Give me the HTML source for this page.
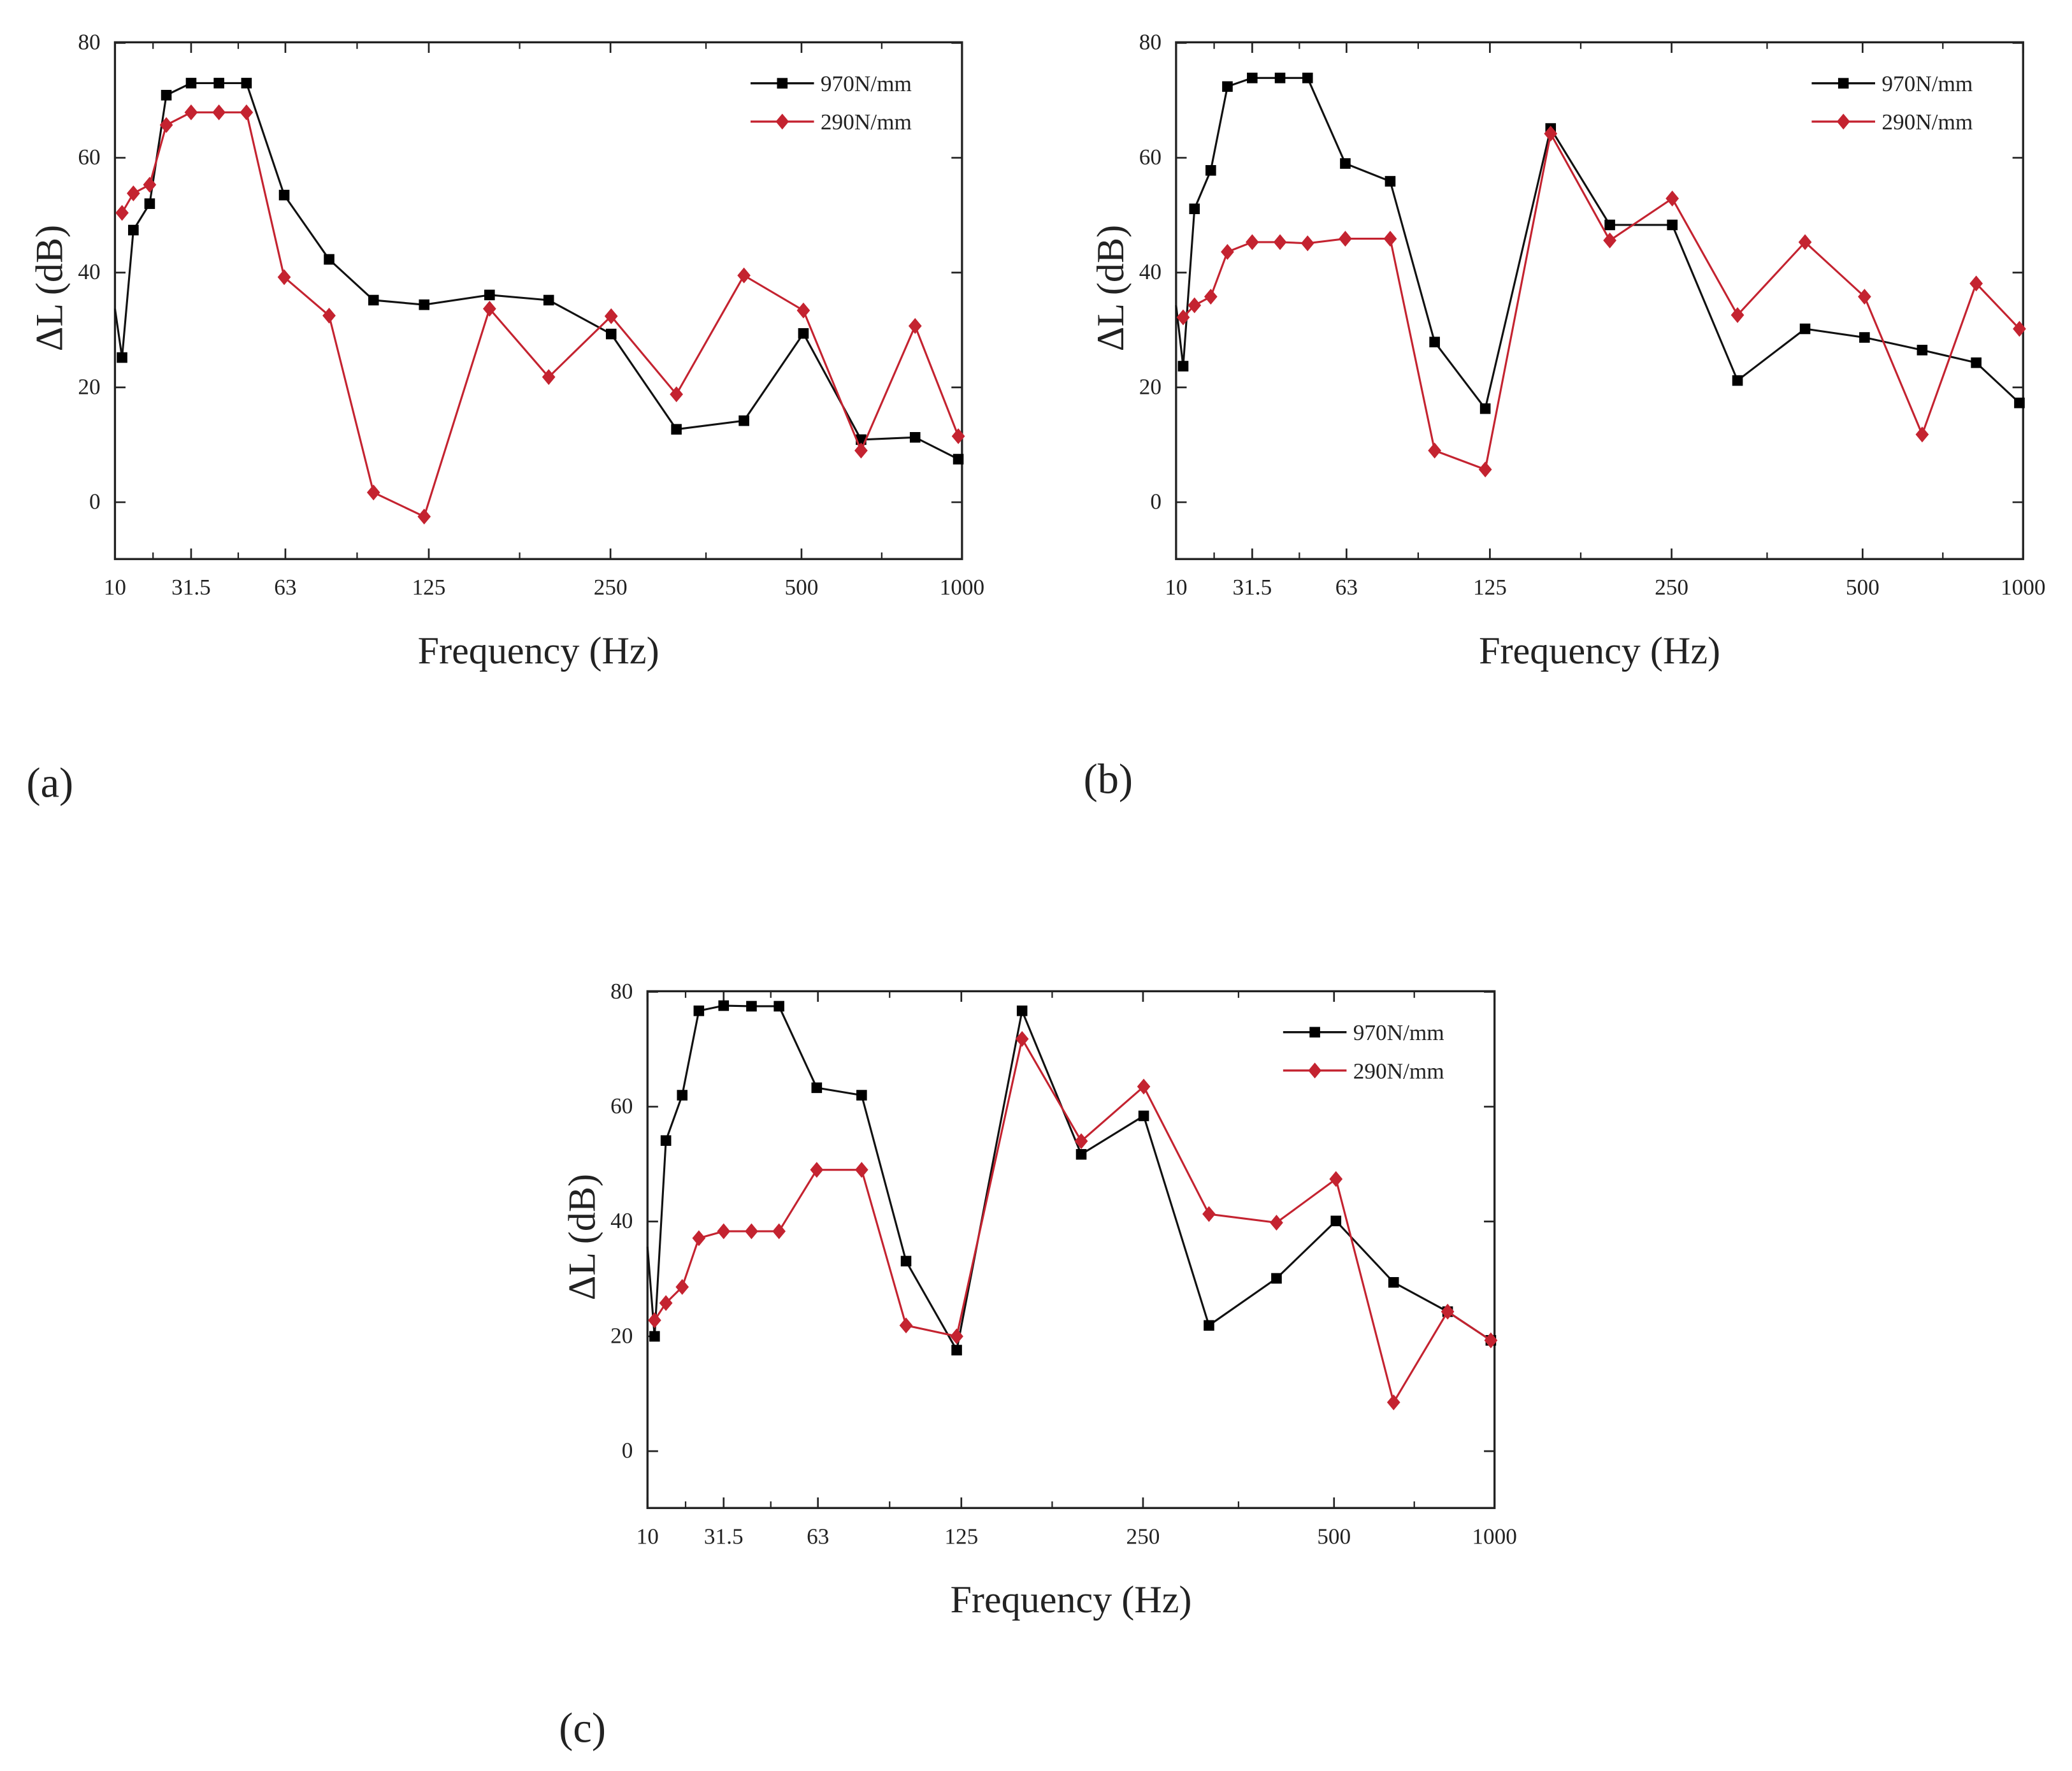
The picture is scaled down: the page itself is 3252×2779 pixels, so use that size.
<!DOCTYPE html>
<html><head><meta charset="utf-8"><style>
html,body{margin:0;padding:0;background:#fff;}
svg{display:block;}
text{font-family:"Liberation Serif",serif;fill:#222;}
</style></head><body>
<svg id="fig" width="3252" height="2779" viewBox="0 0 1568 1340" preserveAspectRatio="none" xmlns="http://www.w3.org/2000/svg"></svg>
<script>
// Shared frequency positions (Hz)
const freqs = [10, 12.0, 15.2, 19.8, 24.5, 31.5, 40.8, 50.0, 62.6, 81.9, 101.1, 123.0, 166.8, 207.5, 250.9, 336.3, 424.7, 506, 685.6, 853.9, 988.5];
const xTickValues = [10, 31.5, 63, 125, 250, 500, 1000];
const xTickLabels = ["10", "31.5", "63", "125", "250", "500", "1000"];
const xTickFrac = [0, 0.0899, 0.2012, 0.3705, 0.585, 0.8105, 1];
const yTickValues = [80, 60, 40, 20, 0];
const seriesNames = ["970N/mm", "290N/mm"];
// Panel (a)
const aBlack = [33.7, 25.2, 47.4, 52.0, 70.9, 73.0, 73.0, 73.0, 53.5, 42.3, 35.2, 34.4, 36.1, 35.2, 29.3, 12.7, 14.2, 29.4, 10.9, 11.3, 7.5];
const aRed = [null, 50.4, 53.8, 55.3, 65.7, 67.9, 67.9, 67.9, 39.2, 32.5, 1.7, -2.5, 33.7, 21.8, 32.4, 18.8, 39.5, 33.4, 9.0, 30.7, 11.5];
// Panel (b)
const bBlack = [34.3, 23.7, 51.1, 57.8, 72.4, 73.9, 73.9, 73.9, 59.0, 55.9, 27.9, 16.3, 65.1, 48.3, 48.3, 21.2, 30.2, 28.7, 26.5, 24.3, 17.3];
const bRed = [null, 32.2, 34.3, 35.8, 43.6, 45.3, 45.3, 45.1, 45.9, 45.9, 9.0, 5.7, 64.2, 45.6, 52.9, 32.6, 45.3, 35.8, 11.8, 38.1, 30.2];
// Panel (c)
const cBlack = [35.6, 20.0, 54.1, 62.0, 76.7, 77.6, 77.5, 77.5, 63.3, 62.0, 33.1, 17.6, 76.7, 51.7, 58.4, 21.9, 30.1, 40.1, 29.4, 24.3, 19.3];
const cRed = [null, 22.8, 25.8, 28.6, 37.1, 38.3, 38.3, 38.3, 49.0, 49.0, 21.9, 20.0, 71.8, 54.0, 63.5, 41.3, 39.8, 47.4, 8.5, 24.3, 19.3];

const NS = "http://www.w3.org/2000/svg";
const svg = document.getElementById("fig");
function mk(tag, attrs, parent) {
  const e = document.createElementNS(NS, tag);
  for (const k in attrs) e.setAttribute(k, attrs[k]);
  (parent || svg).appendChild(e);
  return e;
}
const RED = "#c42330";

function panel(id, L, T, black, red, label, labelX, labelY) {
  const W = 641, H = 391, Yb = T + 348; // y=0 baseline
  const g = mk("g", {});
  
  
  function xs(f) {
    for (let i = 0; i < xTickValues.length - 1; i++) {
      const a = xTickValues[i], b = xTickValues[i + 1];
      if (f <= b || i === xTickValues.length - 2) {
        const t = (f - a) / (b - a);
        return L + W * (xTickFrac[i] + t * (xTickFrac[i + 1] - xTickFrac[i]));
      }
    }
  }
  function ys(v) { return Yb - v * 4.344; }
  const fr = mk("rect", {x: L, y: T, width: W, height: H, fill: "none", stroke: "#222", "stroke-width": 1.6}, g);
  
  
  xTickValues.forEach((v, i) => {
    const x = xs(v);
    [[T + H, T + H - 8], [T, T + 8]].forEach(p => mk("line", {x1: x, x2: x, y1: p[0], y2: p[1], stroke: "#222", "stroke-width": 1.3}, g));
    if (i < xTickValues.length - 1) {
      const xm = (x + xs(xTickValues[i + 1])) / 2;
      [[T + H, T + H - 5], [T, T + 5]].forEach(p => mk("line", {x1: xm, x2: xm, y1: p[0], y2: p[1], stroke: "#222", "stroke-width": 1.1}, g));
    }
    const t = mk("text", {x: x, y: T + H + 27, "text-anchor": "middle", "font-size": 17}, g);
    t.textContent = xTickLabels[i];
    
    
  });
  yTickValues.forEach(v => {
    const y = ys(v);
    mk("line", {x1: L, x2: L + 8, y1: y, y2: y, stroke: "#222", "stroke-width": 1.3}, g);
    mk("line", {x1: L + W, x2: L + W - 8, y1: y, y2: y, stroke: "#222", "stroke-width": 1.3}, g);
    const t = mk("text", {x: L - 11, y: y + 5, "text-anchor": "end", "font-size": 17}, g);
    t.textContent = String(v);
    
    
  });
  const xt = mk("text", {x: L + W / 2, y: T + H + 79, "text-anchor": "middle", "font-size": 29}, g);
  xt.textContent = "Frequency (Hz)";
  
  
  const yt = mk("text", {x: 0, y: 0, "text-anchor": "middle", "font-size": 29, transform: "translate(" + (L - 40) + "," + (T + 186) + ") rotate(-90)"}, g);
  yt.textContent = "ΔL (dB)";
  
  
  const pl = mk("text", {x: labelX, y: labelY, "font-size": 32}, g);
  pl.textContent = label;
  
  
  function series(vals, color, kind, name) {
    const pts = [];
    vals.forEach((v, i) => { if (v !== null) pts.push([xs(freqs[i]), ys(v)]); });
    const pl = mk("polyline", {points: pts.map(p => p.join(",")).join(" "), fill: "none", stroke: color, "stroke-width": 1.5}, g);
    
    
    pts.forEach((p, i) => {
      if (kind === "sq" && i === 0) return;
      let m;
      if (kind === "sq") m = mk("rect", {x: p[0] - 4, y: p[1] - 4, width: 8, height: 8, fill: "#000"}, g);
      else m = mk("path", {d: "M" + p[0] + "," + (p[1] - 6) + " L" + (p[0] + 5) + "," + p[1] + " L" + p[0] + "," + (p[1] + 6) + " L" + (p[0] - 5) + "," + p[1] + "Z", fill: color}, g);
      
      
    });
  }
  series(black, "#111", "sq", "series-970");
  series(red, RED, "dm", "series-290");
  const lx = L + W - 160, ly = T + 31;
  [["#111", "sq"], [RED, "dm"]].forEach((s, i) => {
    const y = ly + i * 29;
    const lg = mk("g", {}, g);
    
    
    mk("line", {x1: lx, x2: lx + 48, y1: y, y2: y, stroke: s[0], "stroke-width": 1.6}, lg);
    const cx = lx + 24;
    if (s[1] === "sq") mk("rect", {x: cx - 4, y: y - 4, width: 8, height: 8, fill: "#000"}, lg);
    else mk("path", {d: "M" + cx + "," + (y - 6) + " L" + (cx + 5) + "," + y + " L" + cx + "," + (y + 6) + " L" + (cx - 5) + "," + y + "Z", fill: s[0]}, lg);
    const t = mk("text", {x: lx + 53, y: y + 6, "font-size": 17, fill: "#444"}, lg);
    t.textContent = seriesNames[i];
  });
}
panel("a", 87, 32, aBlack, aRed, "(a)", 20, 603);
panel("b", 890, 32, bBlack, bRed, "(b)", 820, 600);
panel("c", 490, 750, cBlack, cRed, "(c)", 423, 1318);
</script>
</body></html>
